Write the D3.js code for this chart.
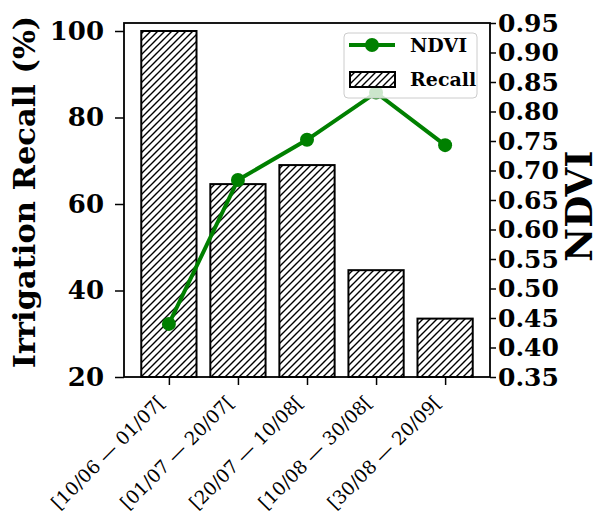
<!DOCTYPE html>
<html>
<head>
<meta charset="utf-8">
<script src="https://cdn.jsdelivr.net/npm/d3@7"></script>
<style>
  body { margin: 0; background: #fff; }
  text { font-family: "DejaVu Serif", serif; }
</style>
</head>
<body>
<svg width="603" height="528"></svg>
<script>
var periods = ["[10/06 \u2014 01/07[", "[01/07 \u2014 20/07[", "[20/07 \u2014 10/08[", "[10/08 \u2014 30/08[", "[30/08 \u2014 20/09["];
var recall = [100, 64.6, 69.0, 44.7, 33.5];
var ndvi = [0.440, 0.684, 0.752, 0.832, 0.743];
var recallTicks = [20, 40, 60, 80, 100];
var ndviTicks = [0.35, 0.40, 0.45, 0.50, 0.55, 0.60, 0.65, 0.70, 0.75, 0.80, 0.85, 0.90, 0.95];

var plotL = 124, plotR = 490, plotT = 23, plotB = 377;
var green = "#008000";

var svg = d3.select("svg");

var x = d3.scaleLinear().domain([-0.65, periods.length - 0.35]).range([plotL, plotR]);
var y = d3.scaleLinear().domain([20, 101.85]).range([plotB, plotT]);
var y2 = d3.scaleLinear().domain([0.35, 0.95]).range([plotB, plotT]);
var barW = x(0.8) - x(0);

// hatch for bars
var defs = svg.append("defs");
defs.append("pattern")
    .attr("id", "hatch")
    .attr("patternUnits", "userSpaceOnUse")
    .attr("width", 7).attr("height", 7)
  .append("path")
    .attr("d", "M-1,1 L1,-1 M0,7 L7,0 M6,8 L8,6")
    .attr("stroke", "#000")
    .attr("stroke-width", 1.4);

// bars
svg.append("g").selectAll("rect")
    .data(recall)
    .enter().append("rect")
    .attr("x", function (d, i) { return x(i) - barW / 2; })
    .attr("y", function (d) { return y(d); })
    .attr("width", barW)
    .attr("height", function (d) { return y(20) - y(d); })
    .attr("fill", "url(#hatch)")
    .attr("stroke", "#000")
    .attr("stroke-width", 2);

// ndvi line
var line = d3.line()
    .x(function (d, i) { return x(i); })
    .y(function (d) { return y2(d); });

svg.append("path")
    .datum(ndvi)
    .attr("d", line)
    .attr("fill", "none")
    .attr("stroke", green)
    .attr("stroke-width", 4);

svg.append("g").selectAll("circle")
    .data(ndvi)
    .enter().append("circle")
    .attr("cx", function (d, i) { return x(i); })
    .attr("cy", function (d) { return y2(d); })
    .attr("r", 7)
    .attr("fill", green);

// axes
var leftAxis = svg.append("g")
    .attr("transform", "translate(" + plotL + ",0)")
    .call(d3.axisLeft(y).tickValues(recallTicks).tickSize(9).tickPadding(11));
leftAxis.selectAll("text").attr("font-size", 26).attr("font-weight", "bold").attr("font-family", "DejaVu Serif");

var rightAxis = svg.append("g")
    .attr("transform", "translate(" + plotR + ",0)")
    .call(d3.axisRight(y2).tickValues(ndviTicks).tickFormat(d3.format(".2f")).tickSize(6).tickPadding(2));
rightAxis.selectAll("text").attr("font-size", 25).attr("font-weight", "bold").attr("font-family", "DejaVu Serif");

var bottomAxis = svg.append("g")
    .attr("transform", "translate(0," + plotB + ")")
    .call(d3.axisBottom(x).tickValues(d3.range(periods.length)).tickFormat(function (i) { return periods[i]; }).tickSize(8));
bottomAxis.selectAll("text")
    .attr("font-size", 18.5)
    .attr("font-family", "DejaVu Serif")
    .attr("text-anchor", "end")
    .attr("transform", "translate(-8,22) rotate(-45)")
    .attr("x", 0).attr("y", 0).attr("dy", "0.35em");

svg.selectAll(".domain").remove();
svg.selectAll(".tick line").attr("stroke", "#000").attr("stroke-width", 1.5);

// frame
svg.append("rect")
    .attr("x", plotL).attr("y", plotT)
    .attr("width", plotR - plotL).attr("height", plotB - plotT)
    .attr("fill", "none")
    .attr("stroke", "#000")
    .attr("stroke-width", 1.8);

// axis labels
svg.append("text")
    .attr("transform", "translate(35,192) rotate(-90)")
    .attr("text-anchor", "middle")
    .attr("font-size", 30.5)
    .attr("font-weight", "bold")
    .text("Irrigation Recall (%)");

svg.append("text")
    .attr("transform", "translate(592,206) rotate(-90)")
    .attr("text-anchor", "middle")
    .attr("font-size", 37)
    .attr("font-weight", "bold")
    .text("NDVI");

// legend
var lg = svg.append("g");
lg.append("rect")
    .attr("x", 344).attr("y", 33).attr("width", 133).attr("height", 65)
    .attr("rx", 4)
    .attr("fill", "#fff").attr("fill-opacity", 0.8)
    .attr("stroke", "#ccc").attr("stroke-width", 1);
lg.append("line")
    .attr("x1", 349).attr("x2", 395).attr("y1", 45).attr("y2", 45)
    .attr("stroke", green).attr("stroke-width", 4);
lg.append("circle").attr("cx", 372).attr("cy", 45).attr("r", 7).attr("fill", green);
lg.append("rect")
    .attr("x", 350).attr("y", 72).attr("width", 45).attr("height", 15)
    .attr("fill", "url(#hatch)").attr("stroke", "#000").attr("stroke-width", 2);
lg.append("text").attr("x", 410).attr("y", 45).attr("dy", "0.36em")
    .attr("font-size", 19).attr("font-weight", "bold").text("NDVI");
lg.append("text").attr("x", 410).attr("y", 79).attr("dy", "0.36em")
    .attr("font-size", 19).attr("font-weight", "bold").text("Recall");
</script>
</body>
</html>
